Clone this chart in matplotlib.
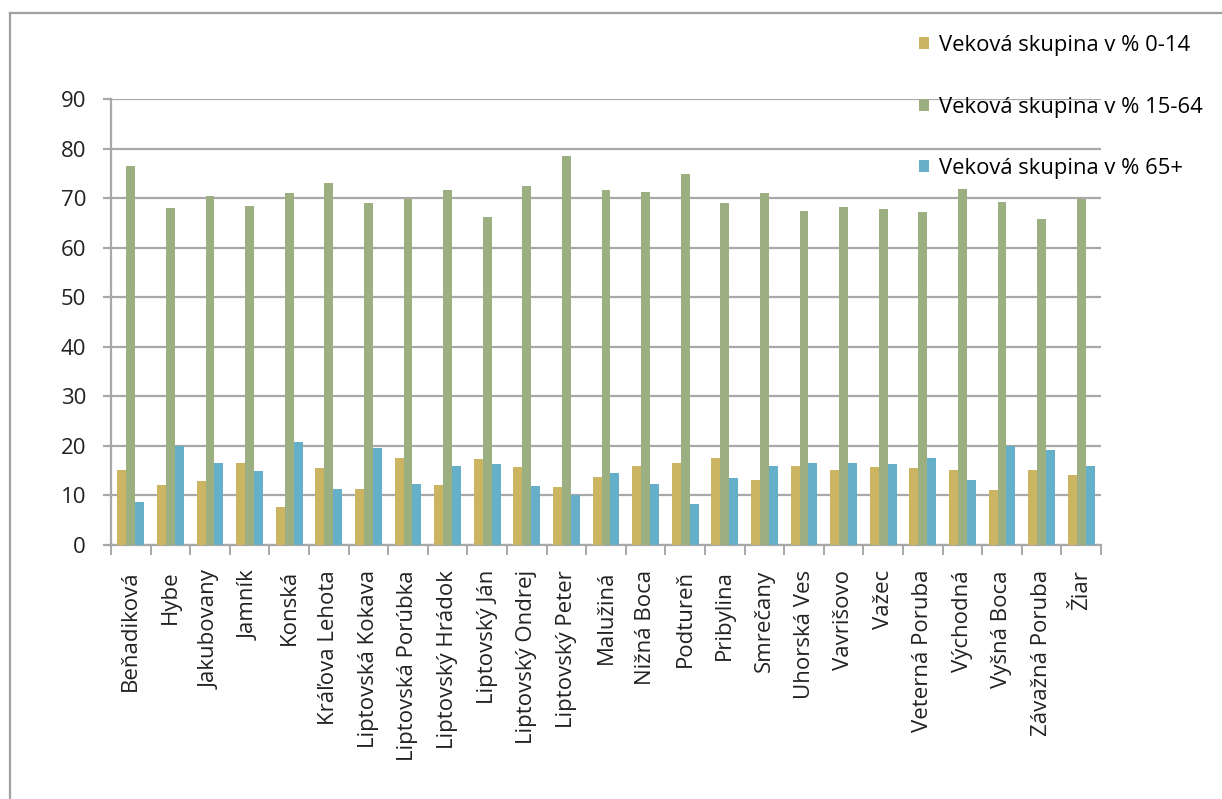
import matplotlib.pyplot as plt
import numpy as np
from matplotlib.lines import Line2D

obce = ['Beňadiková', 'Hybe', 'Jakubovany', 'Jamník', 'Konská', 'Kráľova Lehota',
        'Liptovská Kokava', 'Liptovská Porúbka', 'Liptovský Hrádok', 'Liptovský Ján',
        'Liptovský Ondrej', 'Liptovský Peter', 'Malužiná', 'Nižná Boca', 'Podtureň',
        'Pribylina', 'Smrečany', 'Uhorská Ves', 'Vavrišovo', 'Važec', 'Veterná Poruba',
        'Východná', 'Vyšná Boca', 'Závažná Poruba', 'Žiar']

deti = [15.2, 12.2, 12.9, 16.6, 7.7, 15.6, 11.2, 17.6, 12.2, 17.4, 15.7, 11.8, 13.7,
        16.0, 16.6, 17.6, 13.2, 15.9, 15.2, 15.7, 15.5, 15.2, 11.0, 15.1, 14.1]
produktivni = [76.4, 68.0, 70.4, 68.4, 71.1, 73.1, 69.1, 69.9, 71.7, 66.1, 72.4, 78.4, 71.7,
               71.3, 74.8, 69.0, 71.0, 67.3, 68.2, 67.9, 67.1, 71.8, 69.3, 65.7, 69.9]
seniori = [8.7, 20.0, 16.6, 14.9, 20.7, 11.4, 19.6, 12.4, 16.0, 16.4, 12.0, 10.0, 14.5,
           12.4, 8.3, 13.5, 15.9, 16.6, 16.6, 16.4, 17.6, 13.1, 20.0, 19.2, 16.0]

nazvy = ['Veková skupina v % 0-14', 'Veková skupina v % 15-64', 'Veková skupina v % 65+']
farby = ['#CBB562', '#9BAF80', '#66AFC9']

plt.rcParams['font.family'] = ['Open Sans', 'DejaVu Sans']

fig = plt.figure(figsize=(12.22, 7.99), dpi=100)
ax = fig.add_axes([111/1222, 1 - 545/799, 990/1222, 446/799])

x = np.arange(len(obce))
w = 0.227
for k, (vals, c) in enumerate(zip([deti, produktivni, seniori], farby)):
    ax.bar(x + (k - 1)*w, vals, w, color=c, label=nazvy[k], zorder=3)

ax.set_xlim(-0.5, len(obce) - 0.5)
ax.set_ylim(0, 90)
ax.set_yticks(range(0, 91, 10))
ax.yaxis.grid(True, color='#A8A8A8', lw=1.6, zorder=0)
ax.set_xticks(x)
ax.set_xticklabels(obce, rotation=90, fontsize=16, color='#222222')
ax.set_xticks(np.arange(-0.5, len(obce)), minor=True)
ax.tick_params(axis='x', which='major', length=0, pad=18)
ax.tick_params(axis='x', which='minor', length=7, width=1.4, color='#A8A8A8')
ax.tick_params(axis='y', length=6, width=1.6, color='#A8A8A8', labelsize=16,
               labelcolor='#222222', pad=12)

for s in ['top', 'right']:
    ax.spines[s].set_visible(False)
for s in ['left', 'bottom']:
    ax.spines[s].set_color('#A8A8A8')
    ax.spines[s].set_linewidth(1.6)

fig.legend(loc='upper left', bbox_to_anchor=(919/1222, 1 - 35/799), frameon=False,
           fontsize=15.8, handlelength=0.45, handleheight=0.45, handletextpad=0.45,
           labelspacing=1.85, borderaxespad=0, borderpad=0)

# outer frame (left and top only)
fig.add_artist(Line2D([10/1222, 10/1222], [0, 1 - 13/799], transform=fig.transFigure,
                      color='#A0A0A0', lw=1.6))
fig.add_artist(Line2D([10/1222, 1], [1 - 13/799, 1 - 13/799], transform=fig.transFigure,
                      color='#A0A0A0', lw=1.6))

fig.savefig('out.png', dpi=100, facecolor='white')
